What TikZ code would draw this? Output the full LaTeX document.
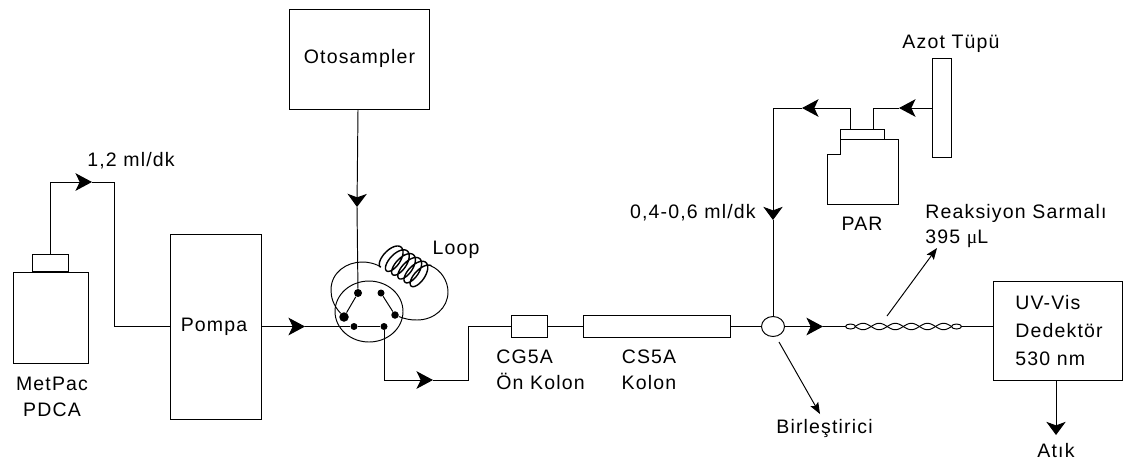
\documentclass[tikz,border=0pt]{standalone}
\usepackage{fontspec}
\setmainfont[LetterSpace=6]{Liberation Sans}
\newfontfamily\simge{Liberation Serif}
\usetikzlibrary{arrows.meta,shapes.geometric}
\tikzset{
  cizgi/.style={line width=0.55pt},
  kutu/.style={draw, cizgi, rectangle, inner sep=0pt},
  etiket/.style={font=\fontsize{11.1}{14.6}\selectfont, inner sep=0pt},
  nokta/.style={circle, fill=black, inner sep=0pt},
  yatay/.style={cizgi, -{Stealth[length=9.4pt,width=10pt,inset=2.4pt]}},
  dikey/.style={cizgi, -{Stealth[length=7.5pt,width=11pt,inset=2pt]}},
  ince/.style={cizgi, -{Stealth[length=6.5pt,width=5pt,inset=1.2pt]}}
}
\begin{document}
\begin{tikzpicture}[x=0.02cm, y=-0.02cm]
\useasboundingbox (0,0) rectangle (1131,461);
% boxes: 1 unit is one pixel of the reference, so sizes are px/50 cm
\node[kutu, minimum width=2.8cm, minimum height=2cm] (otosampler) at (359,59) {};
\node[etiket] (otosamplertxt) at (359.5,58) {Otosampler};
\node[kutu, minimum width=1.82cm, minimum height=3.7cm] (pompa) at (216,326.5) {};
\node[etiket] (pompatxt) at (214,327) {Pompa};
\node[kutu, minimum width=1.5cm, minimum height=1.82cm] (metpac) at (50.5,317.5) {};
\node[kutu, minimum width=0.72cm, minimum height=0.34cm, anchor=south] (metpackapak) at (metpac.north) {};
\node[etiket, align=center] (metpactxt) at (52,397) {MetPac\\PDCA};
% valve
\node[draw, cizgi, ellipse, minimum width=1.36cm, minimum height=1.22cm, inner sep=0pt] (vana) at (369,311.5) {};
\node[nokta, minimum size=0.16cm] (d1) at (358,293) {};
\node[nokta, minimum size=0.14cm] (d2) at (381,293) {};
\node[nokta, minimum size=0.15cm] (d3) at (395,315) {};
\node[nokta, minimum size=0.14cm] (d4) at (384,326.5) {};
\node[nokta, minimum size=0.14cm] (d5) at (354,326.5) {};
\node[nokta, minimum size=0.19cm] (d6) at (344,317) {};
\draw[cizgi] (d1) -- (d6);
\draw[cizgi] (d2) -- (d3);
\draw[cizgi] (d5) -- (d4);
% loop
\draw[cizgi] (d6) .. controls (333,305) and (331,297) .. (331,290)
  .. controls (331,272) and (347,262) .. (362,262)
  .. controls (370,262) and (376,264) .. (381,267);
\draw[cizgi, line width=0.8pt] plot[domain=180:2160, samples=260, variable=\th]
  ({389+(\th-180)/1980*34+14*cos(\th)*0.6+7*sin(\th)*0.85},
   {256+(\th-180)/1980*21-14*cos(\th)*0.8+7*sin(\th)*0.5});
\draw[cizgi] (431,266) .. controls (441,270) and (448,281) .. (448,292)
  .. controls (448,308) and (434,320) .. (417,320)
  .. controls (410,320) and (405,319) .. (d3);
\node[etiket] (looptxt) at (456,250) {Loop};
% columns
\node[kutu, minimum width=0.72cm, minimum height=0.44cm] (onkolon) at (529,326.5) {};
\node[kutu, minimum width=2.94cm, minimum height=0.44cm] (kolon) at (656.5,326.5) {};
\node[draw, cizgi, ellipse, minimum width=0.46cm, minimum height=0.4cm, inner sep=0pt] (birlestirici) at (773,326.5) {};
\node[etiket, align=left] (onkolontxt) at (540.5,370) {CG5A\\Ön Kolon};
\node[etiket, align=center] (kolontxt) at (649,370) {CS5A\\Kolon};
\node[etiket, anchor=base] (birlestiricitxt) at (824.5,433) {Birleştirici};
% PAR bottle
\coordinate (parsol) at (840,139);
\coordinate (parsag) at (883,139);
\draw[cizgi] (parsol) |- (827,154) |- (898,204) |- (parsag);
\node[kutu, minimum width=0.88cm, minimum height=0.2cm] (parkapak) at (862,134) {};
\node[etiket] (partxt) at (862,224) {PAR};
\node[kutu, minimum width=0.39cm, minimum height=1.98cm] (azot) at (942,107.5) {};
\node[etiket] (azottxt) at (951,44) {Azot Tüpü};
% coil and detector
\node[draw, cizgi, ellipse, minimum width=0.2cm, minimum height=0.1cm, inner sep=0pt] (sarmalsol) at (850.5,326.5) {};
\node[draw, cizgi, ellipse, minimum width=0.2cm, minimum height=0.1cm, inner sep=0pt] (sarmalsag) at (956.5,326.5) {};
\draw[cizgi] plot[domain=855:951.7, samples=120, variable=\u] ({\u},{326.5+3.2*sin((\u-855)/16.1*180)});
\draw[cizgi] plot[domain=855:951.7, samples=120, variable=\u] ({\u},{326.5-3.2*sin((\u-855)/16.1*180)});
\node[kutu, minimum width=2.58cm, minimum height=1.98cm] (dedektor) at (1057.5,330.5) {};
\node[etiket, align=left, anchor=west, font=\fontsize{11.1}{16}\selectfont] (dedektortxt) at (1015,330.5) {UV-Vis\\Dedektör\\530 nm};
\node[etiket, anchor=base] (atiktxt) at (1056,457) {Atık};
\node[etiket, align=left, anchor=west] (sarmaltxt) at (925,226) {Reaksiyon Sarmalı\\395 {\simge μ}L};
\node[etiket, anchor=base east] (hiz1) at (175,166) {1,2 ml/dk};
\node[etiket, anchor=base east] (hiz2) at (756,218) {0,4-0,6 ml/dk};
% flow lines
\coordinate (c1) at (51,182);
\coordinate (c2) at (92,182);
\coordinate (c3) at (114,182);
\draw[yatay] (metpackapak.north) |- (c2);
\draw[cizgi] (c2) -- (c3) |- (pompa.west);
\coordinate (o1) at (357,207);
\draw[dikey] (otosampler.south -| d1) -- (o1);
\draw[cizgi] (o1) -- (d1);
\coordinate (p1) at (305,326.5);
\draw[yatay] (pompa.east |- p1) -- (p1);
\draw[cizgi] (p1) -- (d5);
\coordinate (v1) at (433,380);
\draw[yatay] (d4) |- (v1);
\draw[cizgi] (v1) -| (468,326.5) -- (onkolon.west);
\draw[cizgi] (onkolon.east) -- (kolon.west);
\draw[cizgi] (kolon.east) -- (birlestirici.west);
\coordinate (a1) at (899,108);
\coordinate (a2) at (802,108);
\coordinate (a3) at (773,220);
\draw[yatay] (azot.west |- a1) -- (a1);
\draw[cizgi] (a1) -| (873,129);
\draw[yatay] (850,129) |- (a2);
\draw[dikey] (a2) -| (a3);
\draw[cizgi] (a3) -- (birlestirici.north);
\coordinate (b1) at (823,326.5);
\draw[yatay] (birlestirici.east) -- (b1);
\draw[cizgi] (b1) -- (sarmalsol.west);
\draw[cizgi] (sarmalsag.east) -- (dedektor.west |- sarmalsag);
\coordinate (t1) at (1056,435);
\draw[dikey] (dedektor.south -| t1) -- (t1);
\coordinate (s1) at (887,316);
\coordinate (s2) at (937,248);
\draw[ince] (s1) -- (s2);
\coordinate (s3) at (779,342);
\coordinate (s4) at (820,414);
\draw[ince] (s3) -- (s4);
\end{tikzpicture}
\end{document}
